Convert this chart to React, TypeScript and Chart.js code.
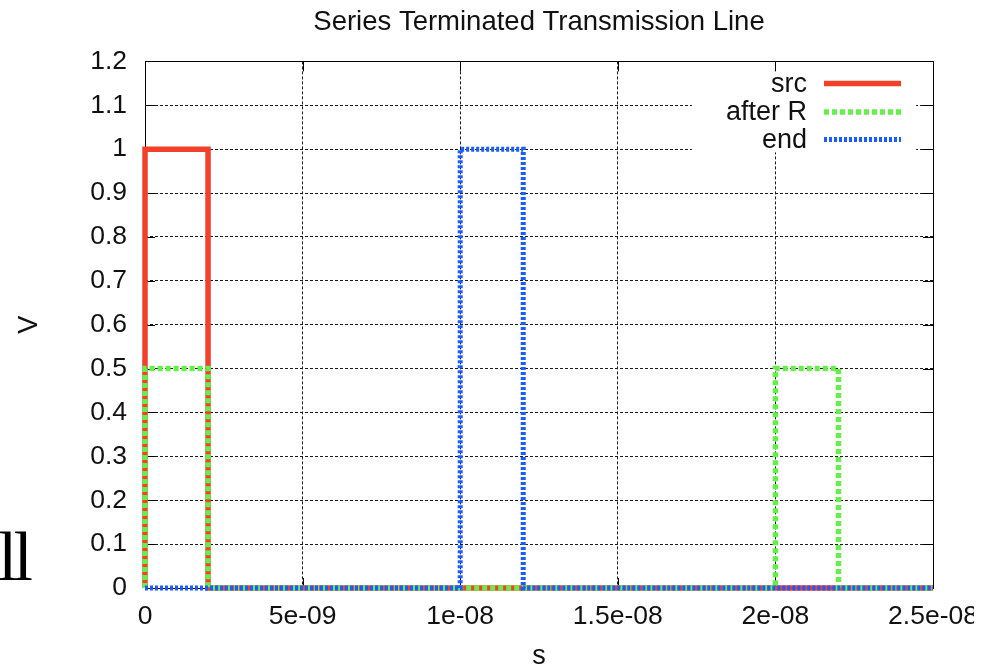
import { useEffect, useRef } from "react";
import { Chart, registerables } from "chart.js";

Chart.register(...registerables);

const CHART_TITLE = "Series Terminated Transmission Line";
const X_TITLE = "s";
const Y_TITLE = "V";

// Source voltage: one 2 ns pulse at t = 0
const srcTime = [0, 0, 2e-9, 2e-9, 2.5e-8];
const srcVolt = [0, 1, 1, 0, 0];

// Node after the series resistor: half-amplitude launch, then the reflection arriving back
const afterRTime = [0, 0, 2e-9, 2e-9, 2e-8, 2e-8, 2.2e-8, 2.2e-8, 2.5e-8];
const afterRVolt = [0, 0.5, 0.5, 0, 0, 0.5, 0.5, 0, 0];

// Far end of the line: full-amplitude pulse after the 10 ns delay
const endTime = [0, 1e-8, 1e-8, 1.2e-8, 1.2e-8, 2.5e-8];
const endVolt = [0, 0, 1, 1, 0, 0];

const seriesLabels = ["src", "after R", "end"];
const seriesColors = ["#f2402a", "#66ee4a", "#1a5cff"];

const xTickValues = [0, 5e-9, 1e-8, 1.5e-8, 2e-8, 2.5e-8];
const xTickLabels = ["0", "5e-09", "1e-08", "1.5e-08", "2e-08", "2.5e-08"];
const yTickValues = [0, 0.1, 0.2, 0.3, 0.4, 0.5, 0.6, 0.7, 0.8, 0.9, 1, 1.1, 1.2];
const yTickLabels = ["0", "0.1", "0.2", "0.3", "0.4", "0.5", "0.6", "0.7", "0.8", "0.9", "1", "1.1", "1.2"];

const FONT = "'Liberation Sans', Arial, Helvetica, sans-serif";
const INK = "#111";

const toPoints = (xs: number[], ys: number[]) => xs.map((x, i) => ({ x, y: ys[i] }));

// gnuplot-style frame: solid border with inward tick marks on all four sides,
// plus the white key box that blanks the grid behind the legend
const framePlugin = {
  id: "gnuplotFrame",
  beforeDatasetsDraw(chart: any) {
    const { ctx, chartArea: a, scales } = chart;
    const xs = scales.x;
    const ys = scales.y;
    ctx.save();
    // key box
    ctx.fillStyle = "#fff";
    ctx.fillRect(a.right - 241, a.top + 1, 224, 90);
    // border
    ctx.strokeStyle = "#000";
    ctx.lineWidth = 1;
    ctx.setLineDash([]);
    ctx.strokeRect(Math.round(a.left) + 0.5, Math.round(a.top) + 0.5, Math.round(a.right - a.left), Math.round(a.bottom - a.top));
    const tick = 10;
    ctx.beginPath();
    for (const v of xTickValues) {
      const px = Math.round(xs.getPixelForValue(v)) + 0.5;
      ctx.moveTo(px, a.bottom);
      ctx.lineTo(px, a.bottom - tick);
      ctx.moveTo(px, a.top);
      ctx.lineTo(px, a.top + tick);
    }
    for (const v of yTickValues) {
      const py = Math.round(ys.getPixelForValue(v)) + 0.5;
      ctx.moveTo(a.left, py);
      ctx.lineTo(a.left + tick, py);
      ctx.moveTo(a.right, py);
      ctx.lineTo(a.right - tick, py);
    }
    ctx.stroke();
    ctx.restore();
  },
  afterDraw(chart: any) {
    const { ctx, chartArea: a } = chart;
    const datasets = chart.data.datasets;
    ctx.save();
    ctx.font = `27px ${FONT}`;
    ctx.textAlign = "right";
    ctx.textBaseline = "middle";
    const rowY = [a.top + 22, a.top + 50.5, a.top + 78];
    seriesLabels.forEach((label, i) => {
      const y = rowY[i];
      ctx.fillStyle = INK;
      ctx.fillText(label, a.right - 126, y + 1);
      const ds = datasets.find((d: any) => d.label === label);
      ctx.strokeStyle = ds.borderColor;
      ctx.lineWidth = ds.borderWidth;
      ctx.lineCap = "butt";
      ctx.setLineDash(ds.borderDash || []);
      ctx.beginPath();
      ctx.moveTo(a.right - 109, y);
      ctx.lineTo(a.right - 32, y);
      ctx.stroke();
    });
    ctx.restore();
  },
};

export default function App() {
  const canvasRef = useRef<HTMLCanvasElement | null>(null);

  useEffect(() => {
    const canvas = canvasRef.current;
    if (!canvas) return;
    const chart = new Chart(canvas, {
      type: "line",
      data: {
        datasets: [
          {
            label: seriesLabels[0],
            data: toPoints(srcTime, srcVolt),
            borderColor: seriesColors[0],
            borderWidth: 5.5,
            order: 3,
          },
          {
            label: seriesLabels[1],
            data: toPoints(afterRTime, afterRVolt),
            borderColor: seriesColors[1],
            borderWidth: 5.5,
            borderDash: [5, 3],
            order: 2,
          },
          {
            label: seriesLabels[2],
            data: toPoints(endTime, endVolt),
            borderColor: seriesColors[2],
            borderWidth: 5,
            borderDash: [3, 2],
            order: 1,
          },
        ].map((d) => ({
          ...d,
          pointRadius: 0,
          tension: 0,
          fill: false,
          borderCapStyle: "butt" as const,
          borderJoinStyle: "miter" as const,
          clip: false as any,
        })),
      },
      options: {
        animation: false,
        responsive: true,
        maintainAspectRatio: false,
        layout: { padding: { left: 0, right: 41, top: 0, bottom: 0 } },
        plugins: {
          legend: { display: false },
          tooltip: { enabled: false },
          title: {
            display: true,
            text: CHART_TITLE,
            fullSize: false,
            color: INK,
            font: { family: FONT, size: 27.5, weight: "normal" },
            padding: { top: 5.5, bottom: 22.9 },
          },
        },
        scales: {
          x: {
            type: "linear",
            min: 0,
            max: 2.5e-8,
            afterBuildTicks: (scale: any) => {
              scale.ticks = xTickValues.map((value) => ({ value }));
            },
            afterFit: (scale: any) => {
              scale.height = 81;
              scale.paddingRight = 0;
            },
            ticks: {
              color: INK,
              font: { family: FONT, size: 26.5 },
              padding: 13,
              maxRotation: 0,
              autoSkip: false,
              callback: (_v: any, i: number) => xTickLabels[i],
            },
            grid: { color: "#1a1a1a", lineWidth: 1, drawTicks: false },
            border: { display: false, dash: [3, 2] },
            title: {
              display: true,
              text: X_TITLE,
              color: INK,
              font: { family: FONT, size: 27 },
              padding: { top: 0, bottom: -4 },
            },
          },
          y: {
            type: "linear",
            min: 0,
            max: 1.2,
            afterBuildTicks: (scale: any) => {
              scale.ticks = yTickValues.map((value) => ({ value }));
            },
            afterFit: (scale: any) => {
              scale.width = 145;
            },
            ticks: {
              color: INK,
              font: { family: FONT, size: 26.5 },
              padding: 18,
              autoSkip: false,
              callback: (_v: any, i: number) => yTickLabels[i],
            },
            grid: { color: "#1a1a1a", lineWidth: 1, drawTicks: false },
            border: { display: false, dash: [3, 2] },
            title: {
              display: true,
              text: Y_TITLE,
              color: INK,
              font: { family: FONT, size: 27 },
              padding: { top: 13, bottom: 0 },
            },
          },
        },
      },
      plugins: [framePlugin],
    });
    return () => chart.destroy();
  }, []);

  return (
    <div style={{ position: "fixed", left: 0, top: 0, width: 993, height: 669, overflow: "hidden", background: "#fff" }}>
      <div style={{ position: "absolute", left: 0, top: 0, width: 974, height: 669 }}>
        <canvas ref={canvasRef} />
      </div>
      <span
        style={{
          position: "absolute",
          left: -29,
          top: 522,
          fontFamily: "'Liberation Serif', 'Times New Roman', serif",
          fontSize: 70,
          letterSpacing: -4,
          lineHeight: "70px",
          color: "#000",
          whiteSpace: "nowrap",
        }}
      >
        all
      </span>
    </div>
  );
}
